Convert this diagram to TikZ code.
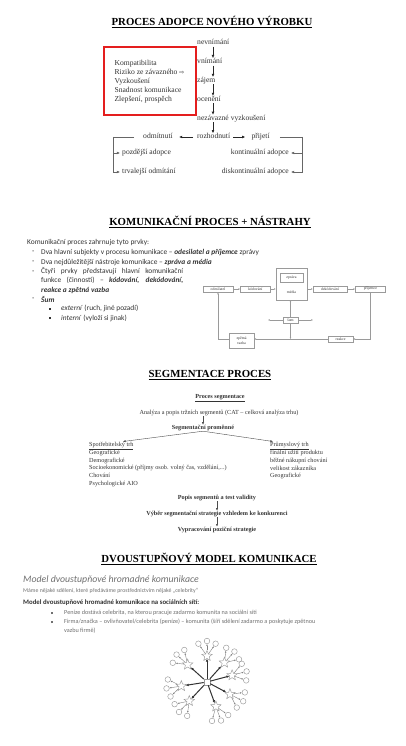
\documentclass[tikz,border=0pt]{standalone}
\usepackage{fontspec}
\setmainfont{Liberation Serif}
\newfontfamily\calibri{Carlito}
\newfontfamily\symfont{DejaVu Sans}
\usetikzlibrary{arrows.meta,positioning,shapes.geometric,calc}
\definecolor{ink}{RGB}{51,51,51}
\definecolor{mute}{RGB}{112,112,112}
\definecolor{frame}{RGB}{154,154,154}
\definecolor{boxred}{RGB}{228,30,30}

\begin{document}
\begin{tikzpicture}[x=1pt, y=-1pt,
    heading/.style={font=\fontsize{10.8}{12}\selectfont\bfseries, inner sep=0pt},
    stage/.style={font=\fontsize{7.6}{9}\selectfont, text=ink, inner sep=0pt, text height=5.4pt, text depth=1.6pt},
    flow/.style={-{Latex[length=3.2pt,width=2.8pt]}, line width=0.7pt, draw=black!85},
    bracket/.style={-{Latex[length=3.2pt,width=2.8pt]}, line width=0.5pt, draw=black!60},
    calib/.style={font=\calibri\fontsize{7.4}{9.4}\selectfont, text=ink, inner sep=0pt, anchor=west},
    cbox/.style={draw=frame, line width=0.4pt, font=\fontsize{3.8}{4.4}\selectfont, text=ink, inner sep=0.8pt, minimum height=6.5pt, align=center},
    carr/.style={-{Latex[length=1.8pt,width=1.6pt]}, line width=0.35pt, draw=frame},
    seg/.style={font=\fontsize{6.2}{7.6}\selectfont, text=ink, inner sep=0pt},
    segline/.style={font=\fontsize{6.2}{7.6}\selectfont\bfseries, text=ink, inner sep=0pt, text height=4.6pt, text depth=1.4pt},
    segarr/.style={-{Latex[length=2.6pt,width=2.2pt]}, line width=0.4pt, draw=black!70},
    note/.style={font=\calibri\fontsize{6.2}{9}\selectfont, text=mute, inner sep=0pt, anchor=west},
    hub/.style={draw=frame, rectangle, minimum size=6pt, inner sep=0pt, line width=0.5pt},
    celeb/.style={star, star points=5, star point ratio=2.3, draw=frame, minimum size=11pt, inner sep=0pt, line width=0.45pt},
    fan/.style={circle, draw=frame, minimum size=5.6pt, inner sep=0pt, line width=0.45pt},
    push/.style={-{Latex[length=3pt,width=2.6pt]}, line width=1pt, draw=black!80},
    share/.style={-{Latex[length=1.8pt,width=1.6pt]}, line width=0.4pt, draw=gray}
]
\fill[white] (0,0) rectangle (406,746);
\useasboundingbox (0,0) rectangle (406,746);

% adopce
\node[heading] (t1) at (212,22) {\underline{PROCES ADOPCE NOVÉHO VÝROBKU}};
\node[rectangle, draw=boxred, line width=2pt, minimum width=92pt, minimum height=68pt, inner sep=0pt,
      font=\fontsize{7.6}{9}\selectfont, text=ink, align=left] (props) at (149.5,81.5)
      {Kompatibilita\\Riziko ze závazného {\symfont\fontsize{6}{9}\selectfont ⇨}\\Vyzkoušení\\Snadnost komunikace\\Zlepšení, prospěch};

\node[stage, anchor=west] (s1) at (197,43) {nevnímání};
\node[stage, below=11.5pt of s1.south west, anchor=north west] (s2) {vnímání};
\node[stage, below=11.5pt of s2.south west, anchor=north west] (s3) {zájem};
\node[stage, below=11.5pt of s3.south west, anchor=north west] (s4) {ocenění};
\node[stage, below=11.5pt of s4.south west, anchor=north west] (s5) {nezávazné vyzkoušení};
\node[stage, anchor=west] (decide) at (197,137) {rozhodnutí};
\node[stage, left=24pt of decide] (reject) {odmítnutí};
\node[stage, right=21pt of decide] (accept) {přijetí};
\coordinate (spine) at (213,0);
\foreach \a/\b in {s1/s2,s2/s3,s3/s4,s4/s5,s5/decide}
  \draw[flow] (\a.south -| spine) -- (\b.north -| spine);
\draw[flow, shorten <=4pt, shorten >=6pt] (decide) -- (reject);
\draw[flow, shorten <=3pt, shorten >=6pt] (decide) -- (accept);

\node[stage, anchor=west] (later) at (122,153) {pozdější adopce};
\node[stage, anchor=west] (lasting) at (122,172) {trvalejší odmítání};
\node[stage, anchor=east] (cont) at (289,153) {kontinuální adopce};
\node[stage, anchor=east] (discont) at (289,172) {diskontinuální adopce};
\draw[bracket] ([xshift=-9pt]reject.west) -- ++(-21,0) coordinate (lbar) |- ([xshift=-2pt]later.west);
\draw[bracket] (lbar) |- ([xshift=-2pt]lasting.west);
\draw[bracket] ([xshift=10pt]accept.east) -- ++(22,0) coordinate (rbar) |- ([xshift=2pt]cont.east);
\draw[bracket] (rbar) |- ([xshift=2pt]discont.east);

% komunikace
\node[heading] (t2) at (210,222) {\underline{KOMUNIKAČNÍ PROCES + NÁSTRAHY}};
\node[calib] (intro) at (27,242.5) {Komunikační proces zahrnuje tyto prvky:};
\foreach \y [count=\k] in {252.5,262.5,272,299}
  \node[calib] (dash\k) at (32,\y) {-};
\node[calib] (i1) at (41,252.5) {Dva hlavní subjekty v procesu komunikace – \textbf{\textit{odesilatel a příjemce}} zprávy};
\node[calib] (i2) at (41,262.5) {Dva nejdůležitější nástroje komunikace – \textbf{\textit{zpráva a média}}};
\node[calib, anchor=north west, text width=142pt, align=justify] (i3) at (41,267.2)
  {Čtyři prvky představují hlavní komunikační\linebreak funkce (činnosti) – \textbf{\textit{kódování, dekódování,}}\linebreak \textbf{\textit{reakce a zpětná vazba}}};
\node[calib] (i4) at (41,299) {\textbf{\textit{Šum}}};
\node[calib] (b1) at (49,308.5) {\rule{2pt}{2pt}};
\node[calib] (b2) at (49,318) {\rule{2pt}{2pt}};
\node[calib] (ext) at (61,308.5) {\textit{externí} (ruch, jiné pozadí)};
\node[calib] (int) at (61,318) {\textit{interní} (vyloží si jinak)};

\node[cbox, minimum width=30pt] (sender) at (218,289) {odesilatel};
\node[cbox, minimum width=30pt, right=7pt of sender] (enc) {kódování};
\node[draw=frame, line width=0.4pt, minimum width=31pt, minimum height=32pt, inner sep=0pt] (medium) at (291.5,284) {};
\node[cbox, minimum width=23pt, minimum height=9pt] (msg) at (291.5,277.5) {zpráva};
\node[cbox, draw=none] (media) at (291.5,292) {média};
\node[cbox, minimum width=34pt] (dec) at (330,289) {dekódování};
\node[cbox, minimum width=30pt, right=8pt of dec] (recv) {příjemce};
\node[cbox, minimum width=15pt] (noise) at (290.5,320) {šum};
\node[cbox, minimum width=25pt, minimum height=15pt] (fb) at (241.5,340.5) {zpětná\\vazba};
\node[cbox, minimum width=25pt] (resp) at (340.5,339) {reakce};
\coordinate (noiseL) at (268,320);
\coordinate (noiseR) at (313,320);

\draw[carr] (sender) -- (enc);
\draw[carr] (enc.east) -- (enc.east -| medium.west);
\draw[carr] (medium.east |- dec.west) -- (dec.west);
\draw[carr] (dec) -- (recv);
\draw[carr] (noise.north) -- (noise.north |- medium.south);
\draw[carr] (noise.west) -- (noiseL);
\draw[carr] (noise.east) -- (noiseR);
\draw[carr] (noise.south) -- (noise.south |- resp.west);
\draw[carr] (recv.south) |- (resp.east);
\draw[carr] (resp.west) -- (fb.east |- resp.west);
\draw[carr] (fb.west |- resp.west) -| (sender.south);

% segmentace
\node[heading] (t3) at (210,375) {\underline{SEGMENTACE PROCES}};
\node[seg, font=\fontsize{6.2}{7.6}\selectfont\bfseries] (segtitle) at (220,398) {\underline{Proces segmentace}};
\node[seg] (analysis) at (219,413) {Analýza a popis tržních segmentů (CAT – celková analýza trhu)};
\node[segline] (segvar) at (203,428) {Segmentační proměnné};
\draw[segarr] (analysis.south -| segvar.north) -- (segvar.north);
\node[seg, anchor=north west, align=left] (consumer) at (89,441.5)
  {\underline{Spotřebitelský trh}\\Geografické\\Demografické\\Socioekonomické (příjmy osob. volný čas, vzdělání,...)\\Chování\\Psychologické AIO};
\node[seg, anchor=north west, align=left] (business) at (270,441.5)
  {\underline{Průmyslový trh}\\finální užití produktu\\běžné nákupní chování\\velikost zákazníka\\Geografické};
\draw[segarr] (segvar.south) -- ([xshift=34pt]consumer.north west);
\draw[segarr] (segvar.south) -- ([xshift=3pt]business.north west);

\node[segline] (describe) at (217,498) {Popis segmentů a test validity};
\node[segline, below=9.5pt of describe] (choose) {Výběr segmentační strategie vzhledem ke konkurenci};
\node[segline, below=9.5pt of choose] (position) {Vypracování poziční strategie};
\draw[segarr] (describe) -- (choose);
\draw[segarr] (choose) -- (position);

% dvoustupnovy model
\node[heading] (t4) at (209,559) {\underline{DVOUSTUPŇOVÝ MODEL KOMUNIKACE}};
\node[note, font=\calibri\itshape\fontsize{9.8}{11}\selectfont] (model) at (23,580) {Model dvoustupňové hromadné komunikace};
\node[note, font=\calibri\fontsize{5.8}{7}\selectfont] (idea) at (23,590.5) {Máme nějaké sdělení, které předáváme prostřednictvím nějaké „celebrity“};
\node[note, font=\calibri\bfseries\fontsize{6.8}{8}\selectfont, text=ink] (social) at (23,603) {Model dvoustupňové hromadné komunikace na sociálních sítí:};
\node[note] (q1) at (51,613) {\rule{2pt}{2pt}};
\node[note] (q2) at (51,622) {\rule{2pt}{2pt}};
\node[note] (pay) at (64,613) {Peníze dostává celebrita, na kterou pracuje zadarmo komunita na sociální síti};
\node[note, align=left] (chain) at (64,626.5) {Firma/značka – ovlivňovatel/celebrita (peníze) – komunita (šíří sdělení zadarmo a poskytuje zpětnou\\vazbu firmě)};

\node[hub] (hub) at (207,682) {};
\foreach \a [count=\i] in {-90,-48,-15,28,70,133,171,222} {
  \node[celeb] (c\i) at ($(hub)+(\a:26)$) {};
  \draw[push] (hub) -- (c\i);
  \foreach \d [count=\j] in {-35,0,35} {
    \node[fan] (f\i\j) at ($(c\i)+(\a+\d:15)$) {};
    \draw[share] (c\i) -- (f\i\j);
  }
}
\end{tikzpicture}
\end{document}
